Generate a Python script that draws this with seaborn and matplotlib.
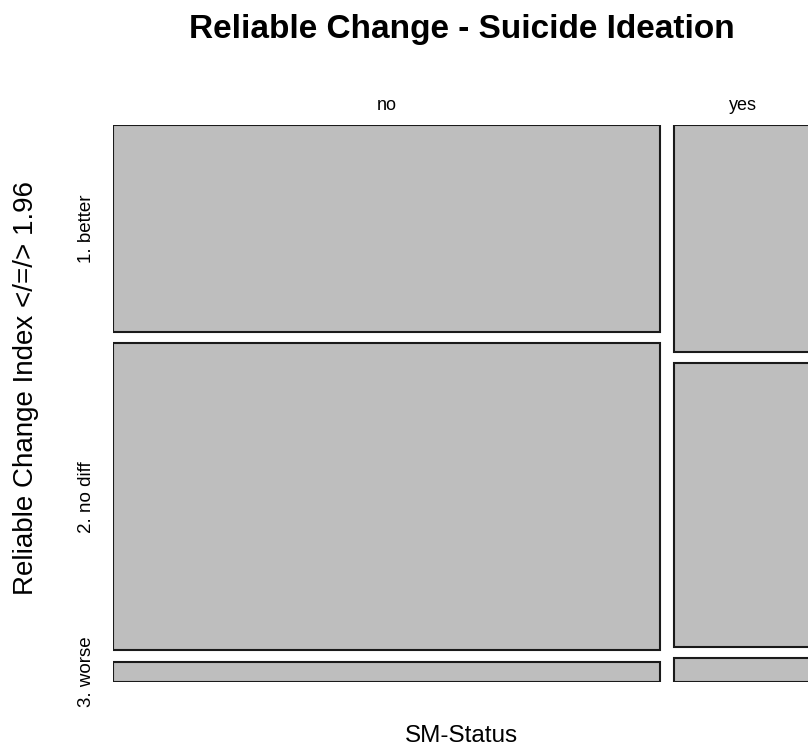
"""Mosaic plot: reliable change of suicide ideation by SM-status."""

import matplotlib
matplotlib.use("Agg")
import matplotlib.pyplot as plt
import numpy as np
import seaborn as sns

sm_status = ["no", "yes"]
change_levels = ["1. better", "2. no diff", "3. worse"]
counts_no = [101, 150, 10]
counts_yes = [28, 35, 3]

sns.set_style("white")
plt.rcParams["font.family"] = ["Liberation Sans", "DejaVu Sans"]
plt.rcParams["text.color"] = "black"

fig = plt.figure(figsize=(8.08, 7.49), dpi=100)
W, H = 808, 749
# plot region in pixels; extends slightly past the right edge like the original
ax = fig.add_axes([113 / W, 67 / H, 699 / W, 557 / H])

gap_x = 0.02
gap_y = 0.02
table = np.array([counts_no, counts_yes], dtype=float)
col_tot = table.sum(axis=1)
col_w = col_tot / col_tot.sum() * (1 - gap_x * (len(sm_status) - 1))

x0 = 0.0
avail_h = 1 - gap_y * (len(change_levels) - 1)
for i, status in enumerate(sm_status):
    props = table[i] / col_tot[i]
    heights = props * avail_h
    # stack from the top: "better" uppermost
    tops = 1 - np.concatenate([[0], np.cumsum(heights[:-1])]) - gap_y * np.arange(len(heights))
    bottoms = tops - heights
    ax.bar([x0] * len(heights), heights, width=col_w[i], bottom=bottoms,
           align="edge", color="#BEBEBE", edgecolor="#1a1a1a", linewidth=1.5)
    ax.text(x0 + col_w[i] / 2, 1.027, status, ha="center", va="baseline", fontsize=13)
    if i == 0:
        for lab, b, h in zip(change_levels, bottoms, heights):
            ax.text(-0.038, b + h / 2, lab, rotation=90, ha="center", va="center", fontsize=13.5)
    x0 += col_w[i] + gap_x

ax.set_xlim(0, 1)
ax.set_ylim(0, 1)
ax.axis("off")

fig.text(462 / W, 1 - 38 / H, "Reliable Change - Suicide Ideation",
         ha="center", va="baseline", fontsize=24, fontweight="bold")
fig.text(461 / W, 1 - 742 / H, "SM-Status", ha="center", va="baseline", fontsize=17.5)
fig.text(26 / W, 1 - 388 / H, "Reliable Change Index </=/> 1.96", rotation=90,
         ha="center", va="center", fontsize=20)

fig.savefig("out.png", dpi=100)
